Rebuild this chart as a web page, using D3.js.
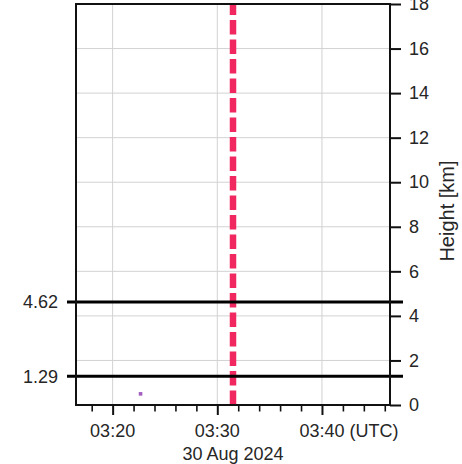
<!DOCTYPE html>
<html>
<head>
<meta charset="utf-8">
<script src="https://cdn.jsdelivr.net/npm/d3@7"></script>
<style>
  html, body { margin: 0; padding: 0; background: #fff; }
  svg text { font-family: "Liberation Sans", Arial, sans-serif; fill: #262626; }
</style>
</head>
<body>
<svg id="chart" width="462" height="464"></svg>
<script>
// Time window shown on the x axis (UTC)
const timeDomain = ["2024-08-30T03:16:30Z", "2024-08-30T03:46:30Z"];
const majorTimeTicks = ["2024-08-30T03:20:00Z", "2024-08-30T03:30:00Z", "2024-08-30T03:40:00Z"];
const minorTimeTicks = ["2024-08-30T03:18:00Z", "2024-08-30T03:22:00Z", "2024-08-30T03:24:00Z",
  "2024-08-30T03:26:00Z", "2024-08-30T03:28:00Z", "2024-08-30T03:32:00Z", "2024-08-30T03:34:00Z",
  "2024-08-30T03:36:00Z", "2024-08-30T03:38:00Z", "2024-08-30T03:42:00Z", "2024-08-30T03:44:00Z",
  "2024-08-30T03:46:00Z"];
const dateLabel = "30 Aug 2024";

// Height axis (km)
const heightDomain = [0, 18];
const heightTicks = [0, 2, 4, 6, 8, 10, 12, 14, 16, 18];
const heightLabel = "Height [km]";

// Reference height levels (km)
const refLevels = [4.62, 1.29];

// Event time (vertical dashed marker)
const eventTime = "2024-08-30T03:31:30Z";

// Detections
const detectionTimes = ["2024-08-30T03:22:40Z"];
const detectionHeights = [0.5];

const svg = d3.select("#chart");
const plot = { left: 76, right: 390, top: 4, bottom: 405 };

const x = d3.scaleUtc()
  .domain(timeDomain.map(d => new Date(d)))
  .range([plot.left, plot.right]);
const y = d3.scaleLinear()
  .domain(heightDomain)
  .range([plot.bottom, plot.top]);

const fmt = d3.utcFormat("%H:%M");
const FS = 18;

// Grid
const grid = svg.append("g").attr("stroke", "#d2d2d2").attr("stroke-width", 1);
grid.selectAll("line.v").data(majorTimeTicks).join("line")
  .attr("x1", d => x(new Date(d))).attr("x2", d => x(new Date(d)))
  .attr("y1", plot.top).attr("y2", plot.bottom);
grid.selectAll("line.h").data(heightTicks.slice(1, -1)).join("line")
  .attr("x1", plot.left).attr("x2", plot.right)
  .attr("y1", d => y(d)).attr("y2", d => y(d));

// Event marker
svg.append("line")
  .attr("x1", x(new Date(eventTime))).attr("x2", x(new Date(eventTime)))
  .attr("y1", y(heightDomain[0])).attr("y2", y(heightDomain[1]))
  .attr("stroke", "#f0285f").attr("stroke-width", 6.5)
  .attr("stroke-dasharray", "14.5,5")
  .attr("stroke-dashoffset", 0);

// Detections
svg.append("g").selectAll("rect").data(detectionTimes).join("rect")
  .attr("x", (d) => x(new Date(d)) - 1.8)
  .attr("y", (d, i) => y(detectionHeights[i]) - 1.8)
  .attr("width", 3.6).attr("height", 3.6)
  .attr("fill", "#a25ec0");

// Reference levels with left-side ticks and labels
const ref = svg.append("g");
ref.selectAll("line").data(refLevels).join("line")
  .attr("x1", plot.left - 9).attr("x2", plot.right + 13)
  .attr("y1", d => y(d)).attr("y2", d => y(d))
  .attr("stroke", "#000").attr("stroke-width", 3);
ref.selectAll("text").data(refLevels).join("text")
  .attr("x", plot.left - 18).attr("y", d => y(d))
  .attr("dy", "0.35em").attr("text-anchor", "end")
  .attr("font-size", FS)
  .text(d => d.toFixed(2));

// Frame
svg.append("rect")
  .attr("x", plot.left).attr("y", plot.top)
  .attr("width", plot.right - plot.left).attr("height", plot.bottom - plot.top)
  .attr("fill", "none").attr("stroke", "#111").attr("stroke-width", 2);

// Right height axis
const yAxis = d3.axisRight(y).tickValues(heightTicks).tickSize(11).tickPadding(8)
  .tickFormat(d3.format("d"));
const gy = svg.append("g").attr("transform", `translate(${plot.right},0)`).call(yAxis);
gy.select(".domain").remove();
gy.selectAll(".tick line").attr("stroke", "#111").attr("stroke-width", 2);
gy.selectAll(".tick text").attr("font-size", FS).attr("font-family", null);

svg.append("text")
  .attr("transform", `translate(454,211) rotate(-90)`)
  .attr("text-anchor", "middle")
  .attr("font-size", 20)
  .text(heightLabel);

// Bottom time axis: minor ticks
const gMinor = svg.append("g").attr("transform", `translate(0,${plot.bottom})`)
  .call(d3.axisBottom(x).tickValues(minorTimeTicks.map(d => new Date(d))).tickSize(6.5).tickFormat(""));
gMinor.select(".domain").remove();
gMinor.selectAll(".tick line").attr("stroke", "#111").attr("stroke-width", 1.6);

// Bottom time axis: major ticks
const gMajor = svg.append("g").attr("transform", `translate(0,${plot.bottom})`)
  .call(d3.axisBottom(x).tickValues(majorTimeTicks.map(d => new Date(d))).tickSize(10).tickFormat(""));
gMajor.select(".domain").remove();
gMajor.selectAll(".tick line").attr("stroke", "#111").attr("stroke-width", 2);

// Major tick labels; the last one carries the time zone
const labels = svg.append("g");
majorTimeTicks.forEach((d, i) => {
  const t = new Date(d);
  const cx = x(t);
  const txt = labels.append("text")
    .attr("y", 437).attr("font-size", FS)
    .text(fmt(t));
  const w = txt.node().getComputedTextLength();
  txt.attr("x", cx - w / 2);
  if (i === majorTimeTicks.length - 1) txt.text(fmt(t) + " (UTC)");
});

svg.append("text")
  .attr("x", x(new Date(eventTime))).attr("y", 460)
  .attr("text-anchor", "middle").attr("font-size", FS)
  .text(dateLabel);
</script>
</body>
</html>
